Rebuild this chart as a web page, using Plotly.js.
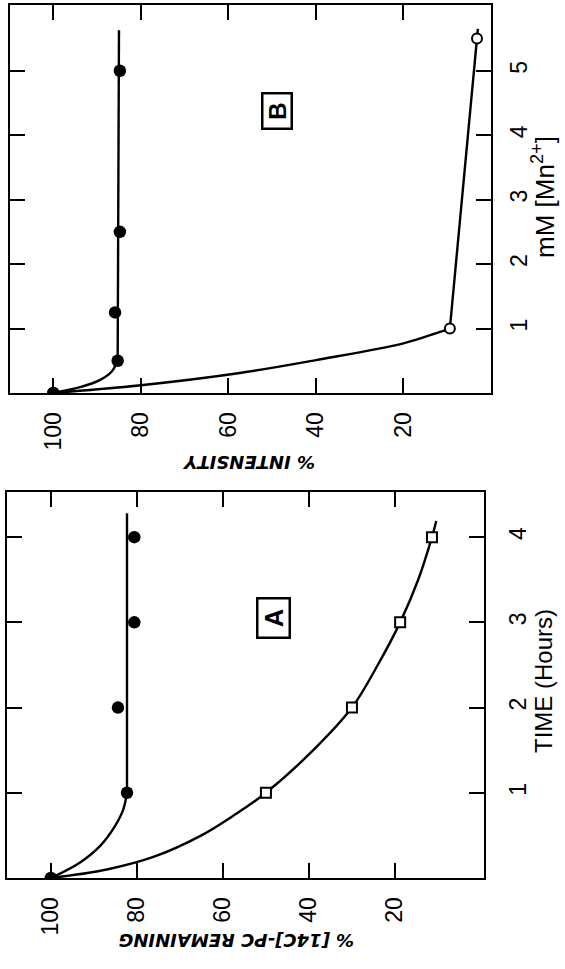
<!DOCTYPE html>
<html>
<head>
<meta charset="utf-8">
<script src="https://cdn.plot.ly/plotly-3.0.1.min.js"></script>
<style>
  html, body { margin: 0; padding: 0; background: #fff; }
  #chart { width: 565px; height: 969px; }
</style>
</head>
<body>
<div id="chart"></div>
<script>
// Panel A: time course (hours) of remaining [14C]-PC, in percent
const timeA = [0, 1, 2, 3, 4];
const controlA = [100, 82.3, 84.4, 80.6, 80.6];
const treatedTimeA = [1, 2, 3, 4];
const treatedA = [50, 30, 18.8, 11.4];
// hand-drawn curves of panel A
const controlCurveTimeA = [0, 0.18, 0.375, 0.61, 0.8, 1.0];
const controlCurvePctA = [100, 93.3, 88.6, 85.1, 83.2, 82.3];
const controlLineTimeA = [1.0, 4.28];
const controlLinePctA = [82.3, 82.3];
const treatedCurveTimeA = [0, 0.1, 0.25, 0.5, 0.75, 1, 1.5, 2, 2.5, 3, 3.5, 4, 4.19];
const treatedCurvePctA = [100, 87, 76, 65, 57, 50, 39, 30, 24, 18.8, 14.6, 11.4, 10.4];

// Panel B: intensity (%) versus Mn2+ concentration (mM)
const concB = [0, 0.5, 1.25, 2.5, 5];
const controlB = [100, 85.3, 85.9, 84.8, 84.8];
const concTreatedB = [0, 1, 5.5];
const treatedB = [100, 9.4, 3.2];
// hand-drawn curves of panel B
const controlCurveConcB = [0, 0.09, 0.2, 0.33, 0.5];
const controlCurvePctB = [100, 93.9, 89.4, 86.7, 85.3];
const controlLineConcB = [0.5, 5.63];
const controlLinePctB = [85.3, 85.0];
const treatedCurveConcB = [0, 0.12, 0.31, 0.51, 0.77, 0.94, 1.0];
const treatedCurvePctB = [100, 80, 57.4, 40, 20, 12.0, 9.4];
const treatedLineConcB = [1.0, 5.5, 5.65];
const treatedLinePctB = [9.4, 3.2, 3.0];

// tick labels
const pctTicks = [100, 80, 60, 40, 20];
const hourTicks = [1, 2, 3, 4];
const mmTicks = [1, 2, 3, 4, 5];

const W = 565, H = 969;
const px = v => v / W;
const py = v => 1 - v / H;

const curveLine = { color: '#000', width: 2.4 };
const filled = { symbol: 'circle', size: 12.5, color: '#000' };

const traces = [
  // panel B curves and points
  { x: controlCurvePctB, y: controlCurveConcB, xaxis: 'x', yaxis: 'y', mode: 'lines',
    line: Object.assign({ shape: 'spline', smoothing: 1 }, curveLine) },
  { x: controlLinePctB, y: controlLineConcB, xaxis: 'x', yaxis: 'y', mode: 'lines', line: curveLine },
  { x: treatedCurvePctB, y: treatedCurveConcB, xaxis: 'x', yaxis: 'y', mode: 'lines',
    line: Object.assign({ shape: 'spline', smoothing: 1 }, curveLine) },
  { x: treatedLinePctB, y: treatedLineConcB, xaxis: 'x', yaxis: 'y', mode: 'lines', line: curveLine },
  { x: treatedB, y: concTreatedB, xaxis: 'x', yaxis: 'y', mode: 'markers',
    marker: { symbol: 'circle', size: 10, color: '#fff', line: { color: '#000', width: 2 } } },
  { x: controlB, y: concB, xaxis: 'x', yaxis: 'y', mode: 'markers', marker: filled },

  // panel A curves and points
  { x: controlCurvePctA, y: controlCurveTimeA, xaxis: 'x2', yaxis: 'y2', mode: 'lines',
    line: Object.assign({ shape: 'spline', smoothing: 1 }, curveLine) },
  { x: controlLinePctA, y: controlLineTimeA, xaxis: 'x2', yaxis: 'y2', mode: 'lines', line: curveLine },
  { x: treatedCurvePctA, y: treatedCurveTimeA, xaxis: 'x2', yaxis: 'y2', mode: 'lines',
    line: Object.assign({ shape: 'spline', smoothing: 1 }, curveLine) },
  { x: treatedA, y: treatedTimeA, xaxis: 'x2', yaxis: 'y2', mode: 'markers',
    marker: { symbol: 'square', size: 10, color: '#fff', line: { color: '#000', width: 2 } } },
  { x: controlA, y: timeA, xaxis: 'x2', yaxis: 'y2', mode: 'markers', marker: filled }
];

const tickFont = { family: 'Liberation Sans, Arial, sans-serif', size: 23, color: '#000' };
const axisBase = {
  showline: true, linecolor: '#000', linewidth: 2, mirror: 'ticks',
  ticks: 'inside', ticklen: 15, tickwidth: 2, tickcolor: '#000',
  showgrid: false, zeroline: false, tickangle: -90, tickfont: tickFont, fixedrange: true
};

const titleFont = { family: 'DejaVu Sans, sans-serif', size: 18, style: 'italic', weight: 'bold', color: '#000' };
const sideFont = { family: 'Liberation Sans, Arial, sans-serif', size: 24, color: '#000' };

const layout = {
  width: W, height: H,
  margin: { l: 0, r: 0, t: 0, b: 0 },
  paper_bgcolor: '#fff', plot_bgcolor: '#fff',
  showlegend: false,
  xaxis: Object.assign({}, axisBase, {
    domain: [px(10), px(491)], range: [109.9, 0], anchor: 'y',
    tickvals: pctTicks, ticklabelstandoff: 8
  }),
  yaxis: Object.assign({}, axisBase, {
    domain: [py(393), py(5)], range: [0, 6.02], anchor: 'x', side: 'right',
    tickvals: mmTicks, ticklabelstandoff: 6
  }),
  xaxis2: Object.assign({}, axisBase, {
    domain: [px(7), px(484)], range: [110.2, -0.7], anchor: 'y2',
    tickvals: pctTicks, ticklabelstandoff: 8
  }),
  yaxis2: Object.assign({}, axisBase, {
    domain: [py(878), py(492)], range: [0, 4.53], anchor: 'x2', side: 'right',
    tickvals: hourTicks, ticklabelstandoff: 12
  }),
  annotations: [
    { text: '% INTENSITY', xref: 'paper', yref: 'paper', x: px(249), y: py(463),
      xanchor: 'center', yanchor: 'middle', showarrow: false, textangle: 180, font: titleFont },
    { text: '% [14C]-PC REMAINING', xref: 'paper', yref: 'paper', x: px(237), y: py(941),
      xanchor: 'center', yanchor: 'middle', showarrow: false, textangle: 180, font: titleFont },
    { text: 'TIME (Hours)', xref: 'paper', yref: 'paper', x: px(543), y: py(681),
      xanchor: 'center', yanchor: 'middle', showarrow: false, textangle: -90, font: sideFont },
    { text: 'mM [Mn<sup>2+</sup>]', xref: 'paper', yref: 'paper', x: px(544), y: py(197),
      xanchor: 'center', yanchor: 'middle', showarrow: false, textangle: -90,
      font: { family: 'Liberation Sans, Arial, sans-serif', size: 26, color: '#000' } },
    { text: '<b>B</b>', xref: 'paper', yref: 'paper', x: px(277.5), y: py(111.5),
      xanchor: 'center', yanchor: 'middle', showarrow: false, textangle: -90,
      width: 33, height: 27, borderpad: 0,
      bordercolor: '#000', borderwidth: 2.5, bgcolor: '#fff',
      font: { family: 'Liberation Sans, Arial, sans-serif', size: 24, color: '#000' } },
    { text: '<b>A</b>', xref: 'paper', yref: 'paper', x: px(273), y: py(618),
      xanchor: 'center', yanchor: 'middle', showarrow: false, textangle: -90,
      width: 37, height: 30, borderpad: 0,
      bordercolor: '#000', borderwidth: 2.5, bgcolor: '#fff',
      font: { family: 'Liberation Sans, Arial, sans-serif', size: 25, color: '#000' } }
  ]
};

Plotly.newPlot('chart', traces, layout, { displayModeBar: false, staticPlot: true });
</script>
</body>
</html>
